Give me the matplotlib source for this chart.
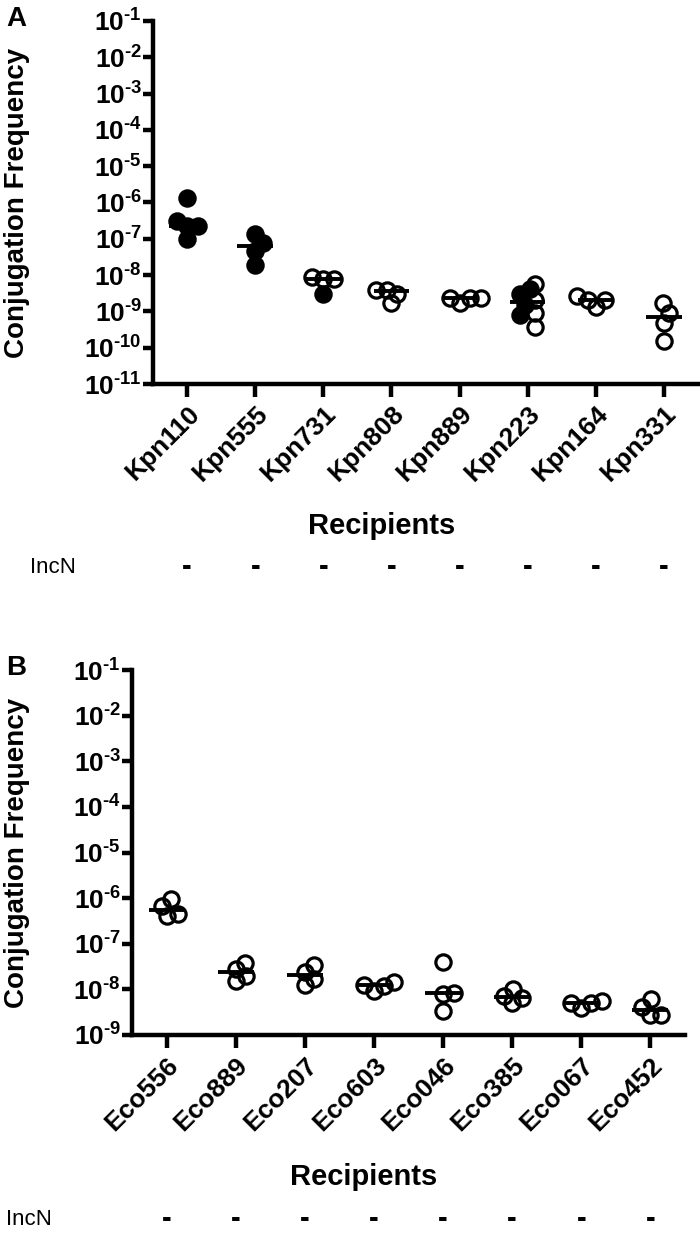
import numpy as np
import matplotlib.pyplot as plt
from matplotlib.transforms import blended_transform_factory

plt.rcParams['font.family'] = ['Liberation Sans', 'DejaVu Sans']
plt.rcParams['mathtext.fontset'] = 'custom'
plt.rcParams['mathtext.rm'] = 'Liberation Sans:bold'
plt.rcParams['mathtext.bf'] = 'Liberation Sans:bold'
plt.rcParams['mathtext.it'] = 'Liberation Sans:bold'

# panel A: Klebsiella recipients
kpn_names = ["Kpn110", "Kpn555", "Kpn731", "Kpn808", "Kpn889", "Kpn223", "Kpn164", "Kpn331"]
kpn_values = [
    [2.2e-7, 1.0e-7, 1.3e-6, 2.2e-7, 3.0e-7],
    [1.35e-7, 1.9e-8, 4.7e-8, 7.9e-8],
    [7.6e-9, 3.1e-9, 7.6e-9, 9.0e-9],
    [4.0e-9, 1.7e-9, 3.1e-9, 4.0e-9],
    [2.3e-9, 1.7e-9, 2.3e-9, 2.4e-9],
    [4.1e-9, 3.1e-9, 1.5e-9, 8.0e-10, 5.6e-9, 2.1e-9, 8.9e-10, 3.8e-10],
    [2.1e-9, 1.3e-9, 2.0e-9, 2.6e-9],
    [1.66e-9, 1.5e-10, 4.9e-10, 9.2e-10],
]
kpn_filled = [
    [1, 1, 1, 1, 1],
    [1, 1, 1, 1],
    [0, 1, 0, 0],
    [0, 0, 0, 0],
    [0, 0, 0, 0],
    [1, 1, 1, 1, 0, 0, 0, 0],
    [0, 0, 0, 0],
    [0, 0, 0, 0],
]

# panel B: E. coli recipients
eco_names = ["Eco556", "Eco889", "Eco207", "Eco603", "Eco046", "Eco385", "Eco067", "Eco452"]
eco_values = [
    [6.8e-7, 4.1e-7, 4.4e-7, 9.5e-7],
    [2.8e-8, 1.55e-8, 2.0e-8, 3.8e-8],
    [2.4e-8, 1.27e-8, 1.7e-8, 3.4e-8],
    [1.2e-8, 9.3e-9, 1.26e-8, 1.48e-8],
    [4.0e-8, 8.5e-9, 7.9e-9, 3.3e-9],
    [7.3e-9, 5.1e-9, 6.6e-9, 1.02e-8],
    [5.1e-9, 4.0e-9, 5.1e-9, 5.6e-9],
    [4.1e-9, 2.8e-9, 2.8e-9, 6.0e-9],
]
eco_filled = [[0] * len(v) for v in eco_values]

incn = ["-"] * 8

W, H = 700, 1233
fig = plt.figure(figsize=(W / 100, H / 100), dpi=100)


def swarm(vals, ppd, ppc, sep=11.0):
    # simple beeswarm: spread points sideways so they don't pile up
    y = np.log10(vals) * ppd
    xs = np.zeros(len(vals))
    placed = []
    cand = [0.0]
    for k in range(1, 80):
        cand += [k * 0.5, -k * 0.5]
    for i in np.argsort(y):
        for c in cand:
            if all(np.hypot(c - px, y[i] - py) >= sep for px, py in placed):
                break
        xs[i] = c
        placed.append((c, y[i]))
    return xs / ppc


def panel(rect, names, values, filled, low_exp, letter, incn_px, ylab_px):
    ax = fig.add_axes(rect)
    ax.set_yscale('log')
    ax.set_ylim(10.0 ** low_exp, 1e-1)
    ax.set_xlim(-0.5, len(names) - 0.5)
    ppd = rect[3] * H / (-1 - low_exp)
    ppc = rect[2] * W / len(names)

    for i, vals in enumerate(values):
        vals = np.array(vals)
        f = np.array(filled[i], dtype=bool)
        if f.sum() > 1 and (~f).sum() > 1:
            # two sets in one column: filled on the left, open on the right
            xs = np.zeros(len(vals))
            xs[f] = i - 0.12 + swarm(vals[f], ppd, ppc)
            xs[~f] = i + 0.1 + swarm(vals[~f], ppd, ppc)
        else:
            xs = i + swarm(vals, ppd, ppc)
        med = np.median(vals)
        ax.plot([i - 0.26, i + 0.26], [med, med], color='black', lw=2.8,
                solid_capstyle='butt', zorder=3)
        for x, v, fl in zip(xs, vals, f):
            ax.plot(x, v, 'o', ms=11, mfc='black' if fl else 'none',
                    mec='black', mew=2.3, zorder=4)

    exps = np.arange(low_exp, 0)
    ax.set_yticks(10.0 ** exps)
    ax.set_yticklabels([r'$\mathbf{10^{\text{-}%d}}$' % -e for e in exps], fontsize=19)
    ax.minorticks_off()
    ax.set_xticks(range(len(names)))
    ax.set_xticklabels(names, rotation=45, ha='right', va='top',
                       rotation_mode='anchor', fontsize=19, fontweight='bold')
    for s in ['top', 'right']:
        ax.spines[s].set_visible(False)
    for s in ['left', 'bottom']:
        ax.spines[s].set_linewidth(3.2)
    ax.tick_params(axis='y', length=7, width=3.2, pad=1)
    ax.tick_params(axis='x', length=9, width=3.2, pad=4)

    ax.set_ylabel('Conjugation Frequency', fontsize=20, fontweight='bold')
    ax.yaxis.set_label_coords((ylab_px - rect[0] * W) / (rect[2] * W), 0.5)
    ax.yaxis.label.set_verticalalignment('center')
    ax.text(2.85, -0.39, 'Recipients', transform=ax.get_xaxis_transform(),
            ha='center', va='center', fontsize=21, fontweight='bold')
    ax.text(incn_px / W, -0.505, 'IncN',
            transform=blended_transform_factory(fig.transFigure, ax.transAxes),
            ha='left', va='center', fontsize=16)
    for i, t in enumerate(incn):
        ax.text(i, -0.505, t, transform=ax.get_xaxis_transform(),
                ha='center', va='center', fontsize=21, fontweight='bold')
    fig.text(6 / W, rect[1] + rect[3] + 0.002, letter, fontsize=20,
             fontweight='bold', ha='left', va='center')
    return ax


panel([153 / W, 1 - 384 / H, 545 / W, 363 / H], kpn_names, kpn_values,
      kpn_filled, -11, 'A', 30, 17)
panel([132 / W, 1 - 1035 / H, 553 / W, 365 / H], eco_names, eco_values,
      eco_filled, -9, 'B', 6, 17)

fig.savefig('out.png', dpi=100)
